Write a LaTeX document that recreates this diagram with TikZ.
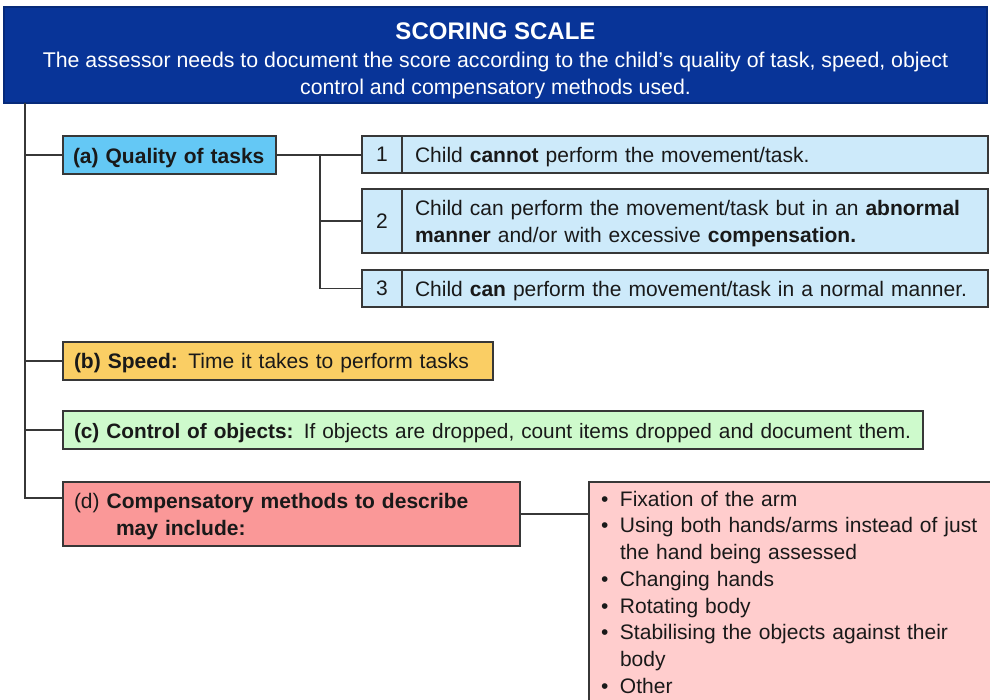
\documentclass[tikz,border=0pt]{standalone}
\usepackage{fontspec}
\setmainfont{Liberation Sans}
\usetikzlibrary{calc}
\definecolor{hdrblue}{RGB}{8,52,152}
\definecolor{qablue}{RGB}{100,200,245}
\definecolor{scblue}{RGB}{205,234,250}
\definecolor{spdyel}{RGB}{250,206,100}
\definecolor{ctlgrn}{RGB}{206,250,204}
\definecolor{cmpred}{RGB}{250,152,152}
\definecolor{cmppink}{RGB}{255,205,205}
\definecolor{edgegray}{RGB}{55,55,55}
\definecolor{ink}{RGB}{25,25,25}
\newcommand{\bodyfont}{\fontsize{21}{26.7}\selectfont}
\newcommand{\bul}{\makebox[19pt][l]{•}}
\newcommand{\tstrut}{\rule{0pt}{21pt}}
\begin{document}
\begin{tikzpicture}[x=1pt,y=-1pt,
  every node/.style={inner sep=0pt, outer sep=0pt},
  box/.style={draw=edgegray, line width=1.3pt, anchor=north west, rectangle, text=ink, font=\bodyfont},
  lbox/.style={box, align=left, inner xsep=11pt},
  conn/.style={draw=edgegray, line width=1.3pt}]
\useasboundingbox (0,0) rectangle (990,700);
\clip (0,0) rectangle (990,700);
\fill[white] (0,0) rectangle (990,700);

% header
\node[box, fill=hdrblue, draw=hdrblue!80!black, text=white, minimum width=983pt, minimum height=96pt, align=center, font=\fontsize{21.3}{27}\selectfont] (hdr) at (4,7)
 {{\fontsize{24}{28}\selectfont\bfseries\rule{0pt}{28pt}SCORING SCALE}\\[1pt]
  The assessor needs to document the score according to the child's quality of task, speed, object\\
  control and compensatory methods used.};

% (a) quality
\node[lbox, fill=qablue, inner xsep=10pt, text width=193pt, minimum height=38pt, font=\bodyfont\bfseries] (qa) at (63,136) {\tstrut(a) Quality of tasks};

% scores
\node[box, fill=scblue, minimum width=40pt, minimum height=37pt] (n1) at (362,136) {1};
\node[lbox, fill=scblue, inner xsep=13pt, text width=560pt, minimum height=37pt] (s1) at (n1.north east) {\tstrut Child \textbf{cannot} perform the movement/task.};
\node[box, fill=scblue, minimum width=40pt, minimum height=64pt] (n2) at (362,189) {2};
\node[lbox, fill=scblue, inner xsep=13pt, text width=560pt, minimum height=64pt] (s2) at (n2.north east) {\tstrut Child can perform the movement/task but in an \textbf{abnormal}\\ \textbf{manner} and/or with excessive \textbf{compensation.}};
\node[box, fill=scblue, minimum width=40pt, minimum height=37pt] (n3) at (362,270) {3};
\node[lbox, fill=scblue, inner xsep=13pt, text width=560pt, minimum height=37pt] (s3) at (n3.north east) {\tstrut Child \textbf{can} perform the movement/task in a normal manner.};

% (b) speed
\node[lbox, fill=spdyel, text width=408pt, minimum height=38pt] (qb) at (63,342) {\rule{0pt}{20pt}\textbf{(b) Speed:} Time it takes to perform tasks};
% (c) control
\node[lbox, fill=ctlgrn, text width=838pt, minimum height=38pt, font=\fontsize{20.8}{26.7}\selectfont] (qc) at (63,411) {\mbox{\tstrut\textbf{(c) Control of objects:} If objects are dropped, count items dropped and document them.}};
% (d) compensatory
\node[lbox, fill=cmpred, text width=435pt, minimum height=64pt] (qd) at (63,482) {\tstrut(d) \textbf{Compensatory methods to describe}\\ \hspace*{42pt}\textbf{may include:}};
% list
\node[lbox, fill=cmppink, inner xsep=12pt, inner ysep=9pt, text width=420pt] (pk) at (589,482)
 {\bul Fixation of the arm\\
  \bul Using both hands/arms instead of just\\
  \hspace*{19pt}the hand being assessed\\
  \bul Changing hands\\
  \bul Rotating body\\
  \bul Stabilising the objects against their\\
  \hspace*{19pt}body\\
  \bul Other\rule[-60pt]{0pt}{1pt}};

% connectors
\coordinate (trunk) at (25,498);
\draw[conn] (hdr.south -| trunk) -- (trunk) -- (trunk -| qd.west);
\draw[conn] (qa.west -| trunk) -- (qa.west);
\draw[conn] (qb.west -| trunk) -- (qb.west);
\draw[conn] (qc.west -| trunk) -- (qc.west);
\coordinate (fork) at (320,0);
\draw[conn] (qa.east) -- (qa.east -| n1.west);
\draw[conn] (qa.east -| fork) |- (n3.west);
\draw[conn] (n2.west -| fork) -- (n2.west);
\draw[conn] (qd.east) -- (qd.east -| pk.west);
\end{tikzpicture}
\end{document}
